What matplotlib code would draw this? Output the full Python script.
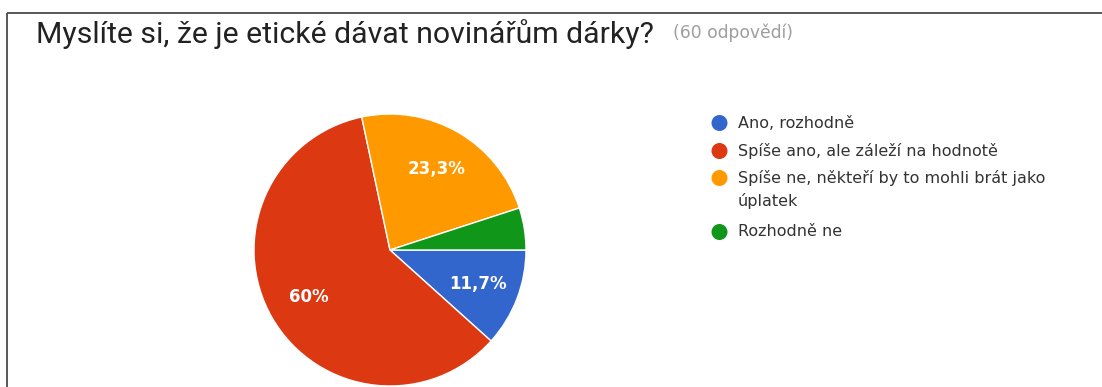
import matplotlib
matplotlib.use("Agg")
import matplotlib.pyplot as plt
from matplotlib.patches import Circle

# Survey data
title = "Myslíte si, že je etické dávat novinářům dárky?"
subtitle = "(60 odpovědí)"
categories = [
    "Ano, rozhodně",
    "Spíše ano, ale záleží na hodnotě",
    "Spíše ne, někteří by to mohli brát jako\núplatek",
    "Rozhodně ne",
]
counts = [7, 36, 14, 3]
colors = ["#3366CC", "#DC3912", "#FF9900", "#109618"]

W, H, DPI = 1102, 387, 100
fig = plt.figure(figsize=(W / DPI, H / DPI), dpi=DPI)
fig.patch.set_facecolor("white")

# Overlay axes in pixel coordinates for frame, title and legend
ov = fig.add_axes([0, 0, 1, 1])
ov.set_xlim(0, W)
ov.set_ylim(H, 0)
ov.axis("off")

# Card border (top and left edges)
ov.plot([7, W], [13, 13], color="#4a4a4a", lw=1.3, solid_capstyle="butt")
ov.plot([7, 7], [13, H], color="#4a4a4a", lw=1.3, solid_capstyle="butt")

ov.text(36, 43, title, fontsize=21.8, family="Roboto", color="#222222",
        ha="left", va="baseline")
ov.text(673, 38, subtitle, fontsize=12.3, family="DejaVu Sans", color="#9e9e9e",
        ha="left", va="baseline")

# Pie chart
cx, cy, R = 390, 250, 136
pie_ax = fig.add_axes([(cx - R) / W, (H - cy - R) / H, 2 * R / W, 2 * R / H])


def fmt_pct(p):
    if p < 8:
        return ""
    s = f"{p:.1f}".rstrip("0").rstrip(".")
    return s.replace(".", ",") + "%"


wedges, texts, autotexts = pie_ax.pie(
    counts, colors=colors, startangle=0, counterclock=False,
    radius=1, autopct=fmt_pct, pctdistance=0.69,
    wedgeprops=dict(edgecolor="white", linewidth=1),
    textprops=dict(color="white", fontsize=12, fontweight="bold",
                   family="DejaVu Sans"),
)
pie_ax.set_xlim(-1, 1)
pie_ax.set_ylim(-1, 1)
pie_ax.set_aspect("equal")
pie_ax.axis("off")

# Legend
rows_y = [123, 151, 178, 232]
line_gap = 23
for label, color, y in zip(categories, colors, rows_y):
    ov.add_patch(Circle((719.5, y), 7.3, color=color))
    for i, line in enumerate(label.split("\n")):
        ov.text(738, y + i * line_gap, line, fontsize=11.5,
                family="DejaVu Sans", color="#333333",
                ha="left", va="center")

fig.savefig("out.png", dpi=DPI)
